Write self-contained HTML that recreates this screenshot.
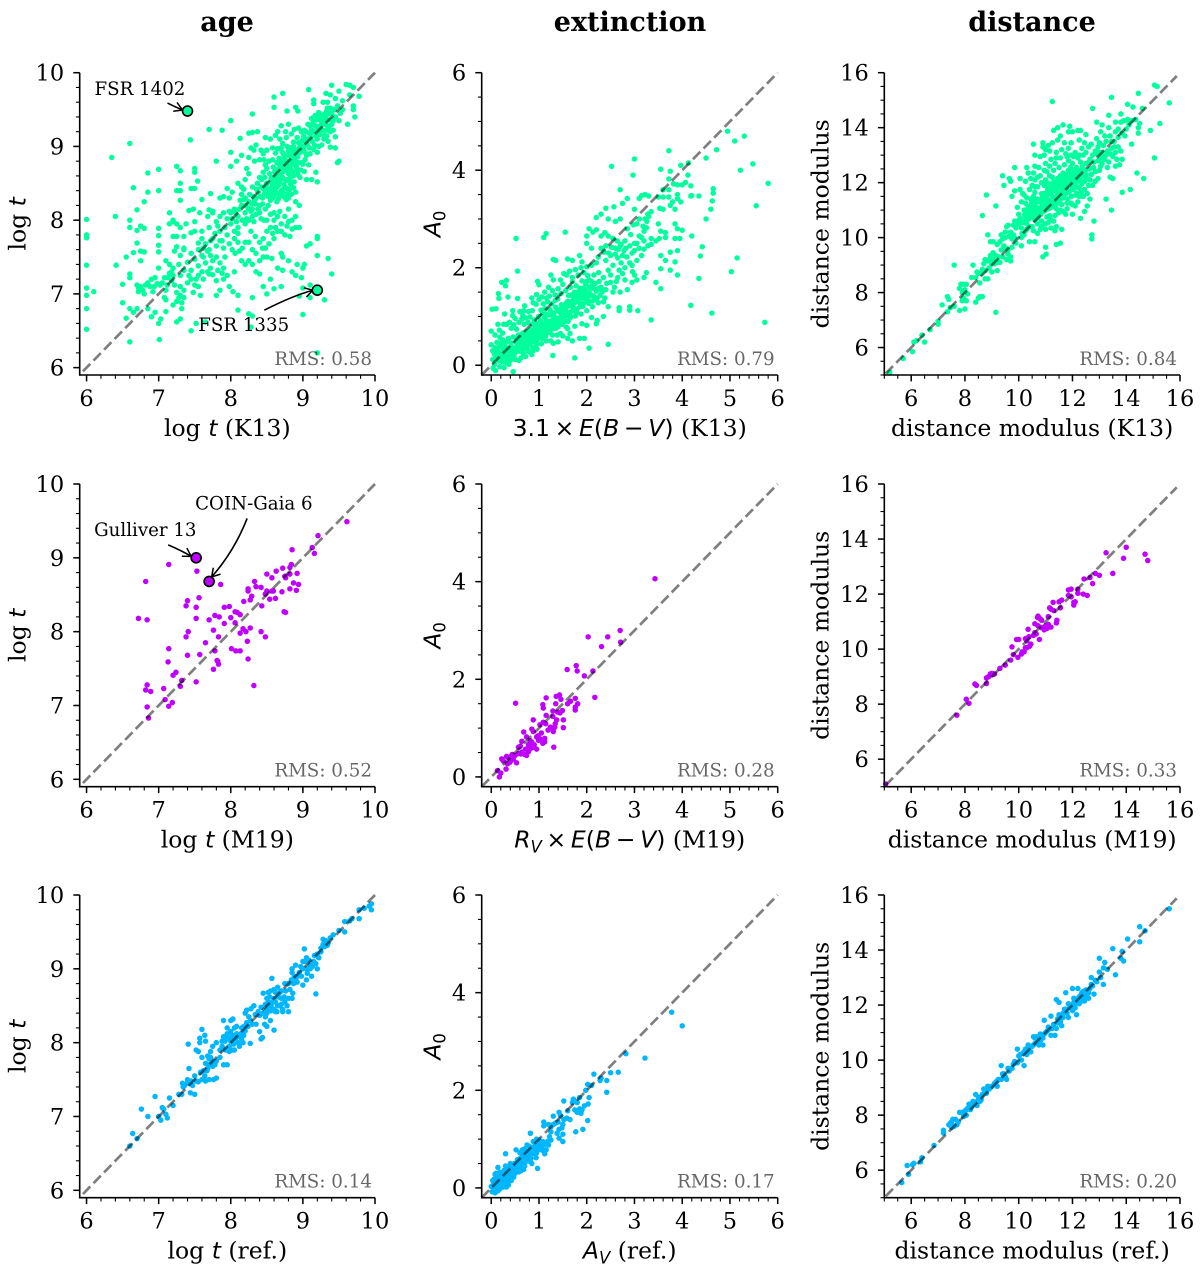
<!DOCTYPE html>
<html lang="en">
<head>
<meta charset="utf-8">
<title>Cluster parameter comparison</title>
<style>
html,body{margin:0;padding:0;background:#fff;}
svg{display:block;}
text{fill:#000;font-family:"DejaVu Serif","Liberation Serif",serif;}
.mi{font-family:"DejaVu Sans","Liberation Sans",sans-serif;font-style:italic;}
.mr{font-family:"DejaVu Sans","Liberation Sans",sans-serif;}
</style>
</head>
<body>
<svg id="figure" xmlns="http://www.w3.org/2000/svg" width="1200" height="1272" viewBox="0 0 1200 1272">
<defs>
<marker id="arrowhead" markerUnits="userSpaceOnUse" markerWidth="14" markerHeight="14" refX="11" refY="7" orient="auto">
<path d="M3,2.2 L11,7 L3,11.8" fill="none" stroke="#000" stroke-width="1.5"/>
</marker>
</defs>
<text x="227" y="31" text-anchor="middle" font-size="27" font-weight="bold">age</text>
<text x="630" y="31" text-anchor="middle" font-size="27" font-weight="bold">extinction</text>
<text x="1032" y="31" text-anchor="middle" font-size="27" font-weight="bold">distance</text>
</svg>
<script>
const ageTicks=[6,7,8,9,10];
const extTicks=[0,1,2,3,4,5,6];
const extYTicks=[0,2,4,6];
const distTicks=[6,8,10,12,14,16];
const rmsK13=["0.58","0.79","0.84"];
const rmsM19=["0.52","0.28","0.33"];
const rmsRef=["0.14","0.17","0.20"];
const ageK13Highlights=[[7.4,9.48],[9.2,7.05]];
const ageM19Highlights=[[7.52,9.0],[7.7,8.68]];
const ageK13Names=["FSR 1402","FSR 1335"];
const ageM19Names=["Gulliver 13","COIN-Gaia 6"];

const ageK13=[[6,8.01],[6,7.8],[6,7.76],[6,7.39],[6,7.08],[6,6.98],[6.1,7.03],[6,6.8],[6,6.52],[6.35,8.85],[6.6,9.04],[6.4,8.05],[6.41,7.39],[6.65,8.44],[6.85,8.64],[6.85,8.38],[6.8,8.25],[6.7,8.14],[6.6,8],[6.6,7.9],[6.7,7.86],[6.75,7.92],[6.8,7.89],[7,8.69],[7,8.4],[7,7.89],[7,7.79],[7,7.66],[7,7.57],[6.7,7.69],[6.65,7.56],[6.75,7.58],[6.8,7.57],[6.55,7.5],[6.75,7.45],[6.6,7.27],[6.6,7.22],[6.5,7.13],[6.5,6.88],[6.6,6.8],[6.65,6.75],[6.7,6.8],[6.55,6.67],[6.6,6.35],[6.85,6.8],[6.9,6.69],[6.95,6.75],[7,6.6],[7.03,6.66],[7.1,6.76],[7.01,6.38],[7.25,6.62],[7.3,6.66],[7.45,6.5],[7.52,6.6],[7.65,6.62],[8.25,6.73],[8.3,6.7],[8.28,6.55],[9,6.72],[9.2,6.2],
[6.7,7.12],[6.72,7.08],[6.75,7.1],[6.78,7.05],[6.72,7.03],[6.8,7],[6.82,7.12],[6.85,7.15],[6.9,7.2],[6.95,7.22],[6.88,7.1],[6.92,7.03],[6.98,7.14],[7.02,7.12],[7.05,7.15],[7.1,7.05],[7.13,7.22],[7.15,7.28],[7.2,7.25],[7.22,7.12],[7.08,6.95],[7.1,6.92],[7.25,7.02],[7.28,6.95],[7.25,6.9],[7.3,6.98],[7.32,6.88],[7.35,6.95],[7.35,7.05],[7.4,7.15],[7.45,7.2],[7.5,7.12],[7.52,7.2],[7.55,7.1],[7.48,7.02],[7.58,6.98],[7.3,7.1],[7.3,7.25],[7.35,7.32],[7.2,6.85],[7.32,6.8],[7,7.35],[7.1,7.45],[7.2,7.35],[7.28,7.4],[7.3,7.52],[7.22,7.58],[7.25,7.64],[7.35,7.62],[7.4,7.43],[7.45,7.32],[7.55,7.38],[7.5,7.47],[7.6,7.3],[7.7,7.27],[7.65,7.42],[7.72,7.52],[7.8,7.5],[7.85,7.42],[7.9,7.35],[7.95,7.25],[7.8,7.18],[7.85,7.05],[7.8,6.98],[7.98,7.1],[8.03,7.03],[8.05,7.3],[8.1,6.78],[8.1,6.98],[8.3,6.95],[7.75,7.26],[7.6,7.52],[7.7,7.6],[7.75,7.45],[7.8,7.65],[7.85,7.72],[7.75,7.75],[7.65,7.68],[7.55,7.69],[7.45,7.83],[7.5,7.85],[7.6,7.85],[7.2,7.78],[7.25,7.78],[7.35,7.78],[7.15,7.95],[7.2,8],[7.2,7.98],[7.25,7.95],[7.3,7.9],[7.38,7.95],[7.15,8.1],[7.42,8.13],[7.48,8.15],[7.5,7.98],[7.57,8.1],[7.25,8.4],[7.3,8.4],[7.3,8.27],[7.3,8.5],[7.25,8.73],[7.3,8.67],[7.5,8.7],[7.5,8.65],[7.54,8.53],[7.5,8.43],[7.45,8.43],[7.6,8.28],[7.7,8.14],[7.75,8.1],[7.72,8.36],[7.8,8.8],[8,8.92],[8,8.73],[8.15,8.88],[8.08,8.8],[8.25,8.63],[8.22,8.7],[7.85,8.3],[7.9,8.32],[7.98,8.3],[8.02,8.38],[7.95,8.43],[8.1,8.5],[8.15,8.45],[8.2,8.3],
[8,8.1],[8.05,8.15],[8.1,8.05],[8.15,8.2],[8.2,8.1],[8.25,8.25],[8.3,8.15],[8.35,8.3],[8.4,8.2],[8.4,8.1],[8.3,8.05],[8.25,8],[8.2,7.95],[8.1,7.9],[8,7.95],[7.95,8.02],[7.9,8.1],[7.85,8.05],[7.8,7.98],[7.75,8.12],[7.68,8.05],[7.7,7.9],[7.85,7.85],[7.95,7.8],[8.05,7.75],[8.1,7.7],[8.2,7.7],[8.3,7.6],[8.35,7.55],[8.25,7.45],[8.2,7.4],[8.15,7.45],[8.3,7.4],[8.4,7.45],[8.45,7.5],[8.5,7.5],[8.4,7.7],[8.45,7.75],[8.5,7.85],[8.55,7.9],[8.6,7.75],[8.65,7.85],[8.7,7.95],[8.75,7.8],[8.6,8],[8.65,8.05],[8.75,8.05],[8.8,7.98],[8.85,7.88],[8.9,7.9],[8.95,7.9],[8.9,8.05],[8.8,8.15],[8.7,7.55],[8.72,7.5],[8.8,7.45],[8.65,7.35],[8.55,7.2],[8.45,7.1],[8.5,7],[8.6,7.07],[8.7,7.1],[8.72,7.32],[8.85,7.3],[8.9,7.25],[8.92,7.4],[9,7.35],[9.02,7.4],[8.98,7.22],[9.1,7.12],[9.2,7.52],[9.05,7.65],[9.1,7.68],[9.2,7.78],[9.2,7.75],[9.35,7.48],[9.4,7.27],[9.3,6.92],[9.1,6.95],[8.95,6.97],[9,7.08],[8.4,7.27],[8.35,7.3],[8.5,8],
[9.6,9.84],[9.65,9.83],[9.7,9.8],[9.4,9.83],[9.65,9.7],[9.78,9.68],[9.5,9.75],[9.55,9.62],[9.7,9.55],[9.7,9.5],[9.72,9.4],[9.62,9.3],[9.5,9.35],[9.45,9.4],[9.4,9.45],[9.55,9.5],[9.45,9.65],[9.38,9.7],[9.32,9.72],[9.08,9.77],[9.15,9.63],[9.15,9.58],[8.72,9.72],[8.6,9.67],[8.6,9.53],[8.78,9.48],[8.9,9.53],[8.93,9.48],[8.3,9.44],[8,9.35],[7.88,9.22],[7.7,9.23],[7.44,9.09],[8.3,9.19],[8.37,9.2],[8.25,9.18],[8.13,9.11],[8.48,9.12],[8.62,9.15],[8.65,9.2],[8.7,9.28],[8.8,9.3],[8.88,9.23],[9.45,9.13],[9.45,8.98],[9.38,8.99],[9.5,8.8],[9.48,8.78],[8.32,8.95],[8.35,9.02],[8.28,8.98],[8.25,8.85],[8.33,8.8],[8.45,8.9],[8.55,9.1],[8.95,8.2],[8.9,8.25],[8.3,8.45],[8.2,8.55],[8.15,8.35],[7.6,7.75],[7.55,7.6],[7.62,7.5],[7.35,7.6],[7.45,7.55],[7.15,7.4],[7.18,7.3]];
const ageK13Core=[[8.52,8.42],[8.57,8.51],[8.62,8.38],[8.66,8.47],[8.71,8.33],[8.74,8.44],[8.79,8.36],[8.83,8.49],[8.54,8.63],[8.59,8.72],[8.63,8.6],[8.68,8.74],[8.72,8.58],[8.77,8.69],[8.81,8.53],[8.86,8.66],[8.91,8.72],[8.96,8.58],[8.58,8.82],[8.62,8.91],[8.67,8.84],[8.71,8.93],[8.76,8.79],[8.8,8.88],[8.84,8.82],[8.88,8.96],[8.93,8.86],[8.98,8.97],[9.03,8.82],[8.72,9.04],[8.77,9.12],[8.82,8.98],[8.87,9.06],[8.92,9.12],[8.96,9.03],[9.01,9.14],[9.06,9.03],[9.11,9.12],[9.16,9.02],[9.2,9.1],[9.02,9.22],[9.07,9.3],[9.12,9.22],[9.17,9.28],[9.22,9.22],[9.27,9.3],[9.32,9.22],[9.37,9.28],[9.12,9.38],[9.17,9.42],[9.22,9.46],[9.27,9.42],[9.32,9.38],[9.36,9.44],[9.28,9.6],[9.34,9.6],[9.42,9.35],[9.3,9.15],[9.35,9.07],[9.26,9.02],[9.2,8.92],[9.1,8.9],[9.08,8.75],[9.02,8.66],[8.98,8.78],[8.93,8.62],[8.88,8.52],[8.82,8.42],[8.77,8.28],[8.7,8.4],[8.64,8.25],[8.58,8.3],[8.52,8.32],[8.46,8.42],[8.41,8.32],[8.36,8.42],[8.47,8.58],[8.43,8.55],[8.5,8.7],[8.53,8.8],[8.6,8.58],[8.64,8.78],[8.7,8.7],[8.74,8.85],[8.68,8.52],[8.78,8.55],[8.84,8.68],[8.74,8.48],[8.67,8.36],[8.61,8.52],[8.56,8.44],[8.49,8.48],[8.26,8.35],[8.31,8.32],[8.18,8.42],[8.21,8.2],[8.12,8.15],[8.28,8.12],[8.34,8.22],[8.38,8.15],[8.44,8.22],[8.48,8.15],[8.52,8.2],[8.35,8.08],[8.42,8.02],[8.46,8],[8.32,7.98],[8.22,8.02],[8.16,8],[8.08,7.98],[8.02,8.02],[7.98,8.12],[8.1,7.82],[8.05,7.85],[7.92,7.9],[7.82,7.92],[7.78,7.82],[7.72,7.72],[7.68,7.58],[7.62,7.62],[8.6,8.1],[8.68,8.12],[8.62,7.9],[8.7,7.85],[8.78,7.92],[8.85,8],[8.58,7.82],[8.82,7.78],[8.55,8.08],[9.12,8.55],[9.18,8.65],[9.2,8.52],[9.05,8.55],[9.22,9],[9.3,9.35],[9.33,9.48],[9.38,9.52],[9.48,9.55],[9.42,9.22],[9.52,9.45],[9.35,9.25],[9.24,9.28],[9.15,9.2],[9.09,9.18],[8.98,9.2],[8.94,9.25],[8.84,9.17],[8.76,9.2],[8.68,9.1],[8.58,8.98],[8.5,8.95],[8.4,8.82],[8.46,8.82],[8.42,8.95],[7.92,7.5],[8.02,7.6],[8.06,7.55],[7.98,7.68],[8.16,7.62],[8.12,7.58],[7.9,7.62],[7.88,7.72],[8.25,7.7],[8.34,7.78],[8.28,7.85],[8.48,7.62],[8.53,7.68],[8.44,7.62],[8.57,7.48],[7.62,7.2],[7.68,7.3],[7.72,7.35],[7.82,7.32],[7.9,7.2],[7.88,7.28],[7.55,7.25],[7.42,7.25],[7.18,7.18],[7.08,7.22],[6.94,7.1],[7.12,7.12]];
const ageK13Ridge=[[8.55,8.27],[8.6,8.33],[8.63,8.44],[8.66,8.29],[8.69,8.55],[8.72,8.38],[8.75,8.31],[8.78,8.43],[8.8,8.3],[8.84,8.35],[8.87,8.44],[8.9,8.38],[8.56,8.57],[8.58,8.47],[8.61,8.66],[8.64,8.54],[8.66,8.69],[8.69,8.62],[8.71,8.78],[8.73,8.66],[8.76,8.54],[8.78,8.74],[8.8,8.63],[8.83,8.58],[8.85,8.76],[8.87,8.6],[8.89,8.82],[8.92,8.67],[8.94,8.78],[8.97,8.68],[9,8.76],[9.03,8.92],[8.65,8.97],[8.68,8.8],[8.7,8.98],[8.73,8.9],[8.75,8.76],[8.78,9],[8.8,8.94],[8.82,8.72],[8.85,8.9],[8.87,9],[8.89,8.75],[8.91,8.94],[8.94,9.05],[8.96,8.92],[8.99,9.08],[9.01,8.98],[9.03,9.07],[9.05,8.88],[9.07,9.1],[9.09,8.98],[9.11,9.18],[9.13,9.07],[9.15,8.96],[9.18,9.14],[9.2,9.26],[9.23,9.16],[9.25,9.35],[9.27,9.22],[9.29,9.1],[9.31,9.3],[9.33,9.14],[9.35,9.36],[9.38,9.2],[9.4,9.36],[8.44,8.3],[8.47,8.36],[8.5,8.5],[8.53,8.37],[8.42,8.45],[8.38,8.38],[8.33,8.27],[8.29,8.22],[8.24,8.16],[8.18,8.28],[8.13,8.27],[8.07,8.1],[8.37,8.5],[8.4,8.58],[8.45,8.65],[8.48,8.75],[8.56,8.35],[8.59,8.4],[8.62,8.48],[8.67,8.6],[8.74,8.72],[8.79,8.8],[8.83,8.92],[8.86,8.85],[8.9,8.9],[8.95,8.98],[9,9],[9.04,9.2],[9.1,9.28],[9.14,9.32],[9.19,9.36],[9.24,9.4],[9.3,9.44],[9.34,9.52],[9.4,9.3],[9.44,9.5]];

const extK13=[[0.52,2.6],[0.55,1.93],[1.1,2.62],[1.15,2.7],[1.55,2.73],[2.52,4.08],[3,4.23],[2.97,3.9],[3.72,4.4],[3.75,3.98],[3.55,4.02],[3.97,4.1],[4.13,4.15],[4.5,4.25],[4.72,4.42],[4.95,4.8],[5.1,4.6],[5.3,4.7],[5.48,4.13],[5.22,4],[5.8,3.73],[5.55,3.27],[4.65,3.62],[4.65,3.53],[4.63,3.37],[4.6,3.2],[4.5,3],[4.18,3.68],[4.18,3.47],[4.2,3.48],[4.35,3.47],[4.2,2.65],[4.42,2.43],[4.38,2.24],[5.15,2.2],[5.03,1.92],[4.35,1.78],[4.18,1.23],[4.62,1.07],[5.73,.88],[3.35,.93],[3.07,1.12],[2.9,1.13],[2.68,1.12],[2.68,1.18],[2.9,1.2],[2.45,.43],[2.05,.35],[1.75,.15],[1.29,.2],[.46,-.13],[3.82,3.72],[3.9,3.7],[4,3.7],[4.07,3.75],[4.12,3.9],[3.8,3.35],[3.9,3.42],[3.97,3.35],[3.85,3.2],[3.75,3.28],[3.72,3.82],[3.6,3.6],[3.72,3.6],[3.5,3.45],[3.6,3.45],[3.72,3.45],[3.9,3.5],[3.6,3.2],[3.53,3.22],[3.35,3.15],[3.3,3.05],[3.22,3],[3.25,2.82],[3.2,2.75],[3.1,2.65],[3,2.5],[2.92,2.68],[3.15,3.48],[3.22,3.5],[3.3,3.47],[3.1,3.42],[2.7,3.6],[2.57,3.25],[2.4,3.22],[2.75,3.32],[2.85,3.42],[3,3.2],[3.28,3.1],[2.98,2.88],[3.1,3],[2.85,2.8],[2.7,3],[2.6,2.95],[2.45,3],[2.3,3.1],[2.2,3.03],[2.05,2.8],[2.2,2.78],[2.3,2.65],[2.38,2.72],[2.45,2.65],[2.13,2.73],[3.55,2.75],[3.52,2.6],[3.65,2.62],[3.65,2.72],[3.85,2.9],[3.9,2.8],[3.85,2.6],[3.95,2.6],[4,2.77],[3.5,2.9],[3.45,2.55],[3.35,2.6],[3.35,2.48],[3.2,2.55],[3.2,2.38],[3.1,2.4],[3.05,2.5],[2.95,2.3],[2.82,2.4],[2.7,2.45],[2.6,2.4],[2.75,2.25],[2.65,2.2],[2.5,2.25],[2.55,2.6],[2.8,2.55],[2.4,2.45],[2.1,2.4],[2,2.5],[2,2.65],[1.85,2.25],[1.9,2.12],[1.7,2.15],[1.6,2.18],[1.3,2.17],[1.35,2.15],[3.55,2.25],[3.65,2.15],[3.75,2.32],[3.9,2.35],[3.85,2.12],[3.55,1.98],[3.75,1.95],[3.9,1.85],[3.45,1.7],[3.55,1.57],[3.25,1.9],[3.2,1.8],[3.05,1.75],[3,1.85],[2.95,1.7],[2.75,1.88],[2.8,1.75],[2.65,1.8],[2.8,2],[2.95,2.05],[3.05,2.15],[2.5,1.7],[2.55,1.5],[2.7,1.5],[2.85,1.55],[2.4,1.55],[2.3,1.6],[2.35,1.8],[2.25,1.9],[2.45,1.95],[2.55,2.05],[2.4,2.15],[2.2,2.1],[2.1,2.05],[2.15,1.85],[2.05,1.75],
[.97,1.72],[1,1.65],[1.2,1.6],[1.25,1.85],[1.3,1.75],[.7,1.22],[.55,1.37],[.35,1.4],[.3,1.63],[.22,1.7],[.32,1.74],[.16,1.37],[.15,1.47],[.02,1.15],[.1,1.16],[.28,1.05],[.45,1.12],[.45,1.02],[.85,1.38],[.95,1.45],[2.35,1.3],[2.45,1.2],[2.35,1],[2.22,.92],[2.2,.85],[2.1,.98],[2,.82],[1.95,.55],[1.85,.55],[1.9,.85],[1.75,.8],[1.6,.75],[1.65,.65],[1.6,.55],[1.7,.5],[1.5,.6],[1.45,.65],[1.25,.5],[1.3,.45],[.85,.22],[.62,.15],[0,.42],[0,.7]];
const extK13Core=[[.03,.12],[.07,.02],[.11,.17],[.04,-.06],[.14,.27],[.09,-.11],[.18,-.03],[.21,.19],[.16,.09],[.24,.07],[.27,-.05],[.29,.22],[.34,.13],[.37,.02],[.39,.28],[.43,.21],[.31,.36],[.26,.31],[.19,.38],[.12,.33],[.06,.24],[.47,.33],[.51,.27],[.55,.38],[.59,.29],[.63,.41],[.67,.33],[.71,.47],[.75,.38],[.79,.52],[.83,.43],[.87,.36],[.91,.5],[.95,.42],[.99,.56],[.41,.46],[.36,.55],[.3,.47],[.24,.52],[.18,.57],[.46,.58],[.52,.49],[.57,.62],[.61,.53],[.66,.66],[.7,.58],[.74,.69],[.78,.6],[.82,.73],[.86,.65],[.9,.58],[.94,.71],[.98,.63],[1.02,.74],[1.06,.55],[1.1,.68],[1.14,.6],[1.18,.77],[.42,.76],[.47,.83],[.53,.74],[.58,.88],[.64,.95],[.69,.84],[.73,.97],[.77,.88],[.81,.99],[.86,.84],[.9,.93],[.94,.86],[.99,1],[1.03,.91],[1.07,.84],[1.11,.99],[1.16,.89],[1.2,1.03],[1.24,.82],[1.28,.93],[1.32,.76],[1.36,.88],[1.4,.79],[1.44,.93],[1.49,.84],[1.53,.97],[1.57,.78],[1.61,.9],[1.66,.98],[1.04,1.13],[1.09,1.26],[1.13,1.16],[1.18,1.3],[1.23,1.14],[1.27,1.26],[1.31,1.07],[1.35,1.19],[1.39,1.36],[1.43,1.1],[1.47,1.24],[1.52,1.03],[1.56,1.16],[1.6,1.31],[1.64,1.08],[1.68,1.22],[1.72,1.35],[1.76,1.01],[1.8,1.15],[1.84,1.29],[1.88,1.05],[1.92,1.21],[1.96,1.38],[2,1.12],[2.04,1.27],[2.08,1.44],[2.12,1.2],[2.16,1.35],[2.2,1.52],[2.24,1.28],[2.28,1.43],[1.22,1.42],[1.28,1.53],[1.34,1.44],[1.4,1.57],[1.46,1.47],[1.5,1.66],[1.56,1.53],[1.62,1.43],[1.66,1.6],[1.7,1.72],[1.74,1.5],[1.78,1.63],[1.82,1.44],[1.86,1.58],[1.9,1.73],[1.94,1.52],[1.98,1.66],[2.02,1.84],[2.06,1.6],[2.1,1.72],[2.14,1.58],[1.58,1.85],[1.64,1.93],[1.7,1.8],[1.76,1.96],[1.82,1.85],[1.88,2],[1.94,1.9],[2,2.02],[1.45,1.75],[1.52,1.88],[2.18,1.68],[2.26,1.72],[2.32,1.5],[2.38,1.38],[2.42,1.68],[2.5,1.85],[2.58,1.6],[2.62,1.72],[2.68,1.95],[2.72,2.1],[2.6,2.28],[2.66,2.38],[2.72,2.48],[2.78,2.35],[2.84,2.22],[2.9,2.45],[2.64,2.55],[2.52,2.42],[2.46,2.3],[2.36,2.32],[2.3,2.4],[2.24,2.22],[3,2.35],[3.15,2.25],[3.05,2.9],[3.18,2.85],[3.26,2.95],[3.15,2.62],[3.28,2.45],[2.9,2.1],[2.96,1.92],[1.15,.5],[1.05,.44],[.96,.33],[.88,.3],[.78,.28],[.68,.22],[.58,.1],[.72,.18],[.5,.12],[1.22,.68],[1.38,.62],[1.28,.62],[1.4,.48],[.12,.47],[.08,.36],[.03,.3],[.17,.72],[.24,.66],[.08,.62],[.32,.84],[.38,.88],[.5,.96],[.26,.84],[.14,.84],[.6,1.1],[.66,1.02],[.78,1.1],[.68,1.12],[.86,1.12],[.94,1.25],[1,1.35],[1.06,1.4],[1.12,1.5],[.88,1.28],[1.14,1.05],[1.08,1.05],[1.34,1.33],[1.16,1.38]];
const extK13Ridge=[[.15,.13],[.22,.26],[.28,.12],[.33,.29],[.38,.18],[.44,.37],[.49,.24],[.54,.45],[.58,.35],[.62,.48],[.65,.27],[.69,.4],[.72,.53],[.76,.31],[.8,.46],[.84,.58],[.88,.49],[.92,.69],[.96,.52],[1,.66],[1.04,.81],[1.08,.6],[1.12,.76],[1.15,.92],[1.19,.68],[1.22,.9],[1.26,1.04],[1.3,.82],[1.34,.98],[1.38,1.12],[1.42,.87],[1.46,1.02],[1.5,1.18],[1.54,.9],[1.58,1.08],[1.62,1.22],[1.65,1.02],[1.7,1.12],[1.74,1.28],[1.78,1.08],[1.82,1.38],[1.86,1.2],[1.9,1.44],[1.94,1.28],[1.98,1.55],[2.02,1.35],[2.06,1.48],[2.1,1.62],[2.14,1.42],[2.18,1.56],[2.22,1.38],[2.26,1.58],[.56,.55],[.6,.43],[.64,.58],[.68,.48],[.72,.62],[.76,.48],[.8,.62],[.84,.52],[.88,.62],[.92,.76],[.96,.6],[1,.78],[1.04,.62],[1.08,.74],[1.12,.85],[1.16,.72],[1.2,.85],[1.24,.72],[1.28,.84],[1.32,.92],[1.36,.76],[1.4,.95],[1.44,1.14],[1.48,.92],[1.52,1.12],[1.56,1.26],[1.6,1.02],[1.64,1.3],[1.68,1.44],[1.72,1.18],[1.76,1.42],[1.8,1.3],[1.84,1.52],[1.88,1.38],[1.92,1.58],[1.96,1.46],[2,1.72],[2.04,1.42],[2.08,1.58],[2.12,1.32],[.2,.09],[.26,.16],[.32,.05],[.4,.1],[.48,.16],[.35,.35],[.27,.42],[.2,.45],[.15,.36],[.09,.14]];

const distK13=[[5.2,5.1],[5.7,5.6],[6.05,5.85],[6.1,6.2],[6.2,6.25],[6.4,6.45],[6.5,6.2],[6.7,6.65],[7,6.85],[7,6.95],[7.15,7.55],[7.35,7.85],[7.4,7.75],[7.35,7.3],[7.45,7.45],[7.6,7.5],[7.8,7.35],[8,7.4],[7.6,9],[7.8,8.15],[7.85,8.3],[7.95,8.3],[8.05,8.3],[7.9,8],[8,8.1],[8.1,7.95],[7.95,7.8],[8.05,7.7],[7.9,7.7],[8.4,7.65],[8.5,7.8],[8.55,7.85],[8.65,7.85],[9.15,7.28],[8.25,8.55],[8.4,8.55],[8.45,8.75],[8.6,8.7],[8.55,8.35],[8.75,8.5],[8.85,8.5],[8.3,9],[8.7,9.05],[8.75,9.2],[8.9,9.2],[9,9.05],[9.05,9.2],[9.1,9.05],[9.2,9.1],[9.3,9.1],[9.4,9.3],[8.75,8.8],[8.9,8.9],[9,8.75],[9.2,8.8],[9.55,9.2],[9.6,9.4],[9.7,9.15],[9.7,9.3],[9.6,9.55],[8.65,10.8],[8.8,11.55],[9.15,11.15],[8.95,9.85],[8.85,10.1],[9.05,9.85],[9.2,9.75],[9.3,9.85],[9.35,10.1],[9.5,10.2],[9.55,10.4],[9.6,10.45],[9.7,10.2],[9.8,10.1],[9.85,10],[9.9,9.8],[10.1,9.7],[9.85,10.6],[9.95,10.6],[10,10.5],[10.1,10.35],[9.45,9.7],[9.75,9.65],[10.4,9.85],[10.6,9.85],[10.9,9.3],[11.02,9.4],[11,9.65],[11.4,9.75],[11.55,9.8],[11.6,10.3],[11.35,10.25],[11.2,10.35],[11,10.3],[10.8,10.3],[10.7,10.5],[10.5,10.4],[10.3,10.3],[10.2,10.1],[10.1,10],[10.3,10.5],[10.25,10.7],[10.4,10.8],[10.6,10.65],[10.85,10.6],[11,10.5],[11.1,10.55],[11.3,10.6],[11.4,10.4],[10.2,11],[10.3,10.95],[10.4,11],[10.5,11.1],[10.6,11.2],[10.65,10.95],[10.8,11],[11,11],[11.15,10.8],[11.2,11.1],[11.4,11.05],[11.5,11.3],[11.3,11.3],[11.1,11.25],[10.9,11.2],[10.7,11.4],[10.45,11.4],[10.25,11.25],[10.1,11.3],[9.75,11.5],[9.85,11.7],[9.95,11.1],[10.05,11.75],[10.05,12.15],[9.85,12.55],[9.7,12.05],[9.4,12.25],[9.45,11.9],[9.65,12.15],[10.3,12.55],[10.35,12.35],[10.25,12.05],[10.45,12.15],[10.5,11.9],[10.6,12.1],[10.7,11.85],[10.85,12],[10.95,11.9],[11,12.1],[11.1,11.8],[11.2,11.6],[11.3,11.9],[11.35,11.7],[11.4,12.05],[11.5,11.85],[11.6,12],[11.65,11.6],[11.7,11.8],[11.8,11.95],[11.9,11.7],[11.95,12.15],[12,11.85],[12.1,11.95],[12.15,11.6],[12.25,11.8],[12.35,11.95],[12.45,12.05],[12.2,11.3],[12,11.2],[11.8,11.25],[11.6,11.2],[11.45,11.55],[11.55,12.25],[11.65,12.15],[11.75,12.3],[11.85,12.45],[11.95,12.35],[12.1,12.3],[12.2,12.25],[12.3,12.45],[12.5,12.3],[12.65,12.5],[12.5,12.7],[12.3,12.75],[12.15,12.55],[12,12.7],[11.85,12.8],[11.7,12.65],[11.5,12.55],[11.3,12.45],[11.15,12.25],[11.05,12.4],[11,12.7],[11.2,12.85],[11.4,12.9],[11,13.2],[10.9,13.3],[10.8,12.95],[10.6,13],[10.55,13.4],[10.6,12.6],[10.9,13.45],[11.25,13.45],[11.4,13.1],[11.6,13.2],[11.75,13.05],[11.85,13.25],[11.95,13],[12.1,13.1],[12.25,13],[12.35,13.25],[12.5,13.1],[12.65,12.85],[12.75,13],[12.85,13.15],[12.95,12.8],[13.05,12.6],[13.2,12.85],[13.35,12.75],[13.5,12.95],[13.6,12.6],[13.75,12.65],[13.85,12.85],[13.3,13.15],[13.15,13.35],[13,13.45],[13.25,13.5],[13.4,13.7],[13.55,13.5],[13.7,13.65],[13.85,13.8],[14,13.95],[14.1,14.2],[13.8,14.2],[13.6,14.2],[13.35,14],[13.05,13.85],[13.1,14.1],[13.35,14.45],[12.9,14.2],[12.75,14.7],[12.5,13.75],[12.3,13.9],[12.2,13.9],[12,13.85],[11.9,14.05],[11.65,14.1],[11.85,13.85],[11.45,14],[11.55,13.7],[11.3,13.9],[11.25,14.95],[13.45,15.1],[14.05,14.85],[14.25,14.75],[14.45,15.25],[14.6,14.7],[15.05,15.55],[15.15,15.5],[15.6,14.9],[15.25,14.15],[14.9,13.9],[14.45,14],[14.45,13.8],[13.8,14.5],[14.1,14.1],[14.35,14.3],[14.5,14.15],[14.2,13.4],[13.45,13.25],[13.05,12.9],[13.4,12.2],[13.5,12.15],[14.4,12.35],[14.65,12.15],[13.85,11.65],[14.15,11.75],[13.25,11.4],[13.45,11],[15.05,12.9],[12.95,12.15],[12.65,12.1],[12.65,11.4],[12.45,10.95],[12.3,10.7],[12,10.85],[12.8,10.6],[12.72,10.1],[12.72,9.95],[11.55,11],[11.75,10.85],[11.05,11.55],[10.85,11.6],[10.6,11.65],[12.9,13.6],[13.1,13.1],[13.6,13.1],[12.7,13.4]];
const distK13Core=[[10.15,10.55],[10.22,10.82],[10.28,10.62],[10.35,11.12],[10.38,10.68],[10.43,10.9],[10.48,11.25],[10.52,10.75],[10.55,10.98],[10.58,11.32],[10.63,10.85],[10.67,11.1],[10.72,10.72],[10.74,11.02],[10.77,11.3],[10.82,10.85],[10.85,11.12],[10.88,11.45],[10.92,10.95],[10.95,11.3],[10.98,11.62],[11.02,11.15],[11.05,11.4],[11.08,11.75],[11.12,11.05],[11.14,11.35],[11.17,11.68],[11.2,11.95],[11.23,11.22],[11.26,11.5],[11.28,11.78],[11.31,12.05],[11.34,11.15],[11.37,11.45],[11.4,11.75],[11.42,11.95],[11.45,12.15],[11.47,11.25],[11.5,11.6],[11.52,11.95],[11.55,12.1],[11.57,11.4],[11.6,11.75],[11.62,11.9],[11.65,12.35],[11.68,11.45],[11.7,12],[11.72,12.18],[11.75,11.6],[11.78,11.85],[11.8,12.1],[11.82,11.4],[11.85,11.65],[11.88,12.2],[11.9,12],[11.93,12.55],[11.96,11.5],[11.98,12.05],[12.02,12.2],[12.05,11.75],[12.08,12.45],[12.12,11.55],[12.15,12.1],[12.18,11.85],[12.22,12.4],[12.26,12.05],[12.3,12.2],[12.33,11.65],[12.37,12.6],[12.4,12.25],[12.45,11.75],[12.48,12.45],[12.55,12.15],[12.6,11.9],[12.62,12.75],[12.7,12.3],[12.78,12.55],[12.85,12.4],[12.4,13],[12.6,13.3],[12.2,12.9],[12.05,12.95],[11.8,12.95],[11.55,12.9],[11.35,12.7],[11.15,12.6],[10.95,12.45],[11.25,12.2],[11.05,12],[10.8,12.25],[10.7,12.2],[10.6,11.85],[10.55,11.5],[10.3,11.45],[10.15,11.6],[10.4,11.75],[10.2,11.55],[10,10.85],[10.05,10.7],[9.9,10.35],[9.8,10.45],[9.65,10.05],[9.75,9.95],[9.5,10],[9.45,9.65],[9.55,9.6],[9.4,9.95],[9.35,9.55],[9.25,9.3],[9.15,9.35],[9.05,9.45],[8.95,9.35],[8.85,9.15],[8.65,8.85],[8.5,8.7],[10.12,10.15],[10.25,10.25],[10.4,10.4],[10.55,10.25],[10.7,10.15],[10.85,10.4],[11.05,10.75],[11.2,10.65],[11.35,10.8],[11.48,10.9],[11.65,10.95],[11.8,11.05],[11.95,11.25],[12.1,11.15],[12.25,11.5],[12.4,11.5],[12.55,11.6],[12.55,11.15],[12.75,11.9],[12.85,12.05],[13,12.45],[13.1,12.7],[13.25,13],[13.4,13.05],[13.55,13.3],[13.7,13.3],[13.8,13.15],[13.95,13.7],[13.65,12.85],[13.3,12.55],[13.15,13],[13,13.1],[12.9,13.05],[12.8,12.75],[13.45,13.5],[13.6,13.85],[13.9,14.25],[14.05,14.3],[14.2,14.25],[13.7,13.95],[13.2,13.7],[12.95,13.3],[12.45,13.45],[12.25,13.55],[11.95,13.45],[11.7,13.45],[11.45,13.55],[11.15,13.15],[10.95,13],[11.1,13.35],[10.75,12.55],[10.55,12.35]];

const ageM19=[[9.61,9.49],[9.21,9.3],[9.13,9.14],[9.16,9.06],[8.85,9.11],[7.14,8.91],[7.53,8.82],[6.82,8.68],[7.86,8.64],[6.72,8.18],[6.84,8.16],[7.56,8.46],[7.4,8.42],[7.38,8.35],[7.52,8.33],[7.52,8.18],[7.7,8.16],[7.78,8.22],[7.84,8.2],[7.91,8.33],[7.98,8.34],[8,8.19],[7.91,8.11],[7.76,8.02],[7.83,7.93],[7.65,7.85],[7.41,8],[7.38,7.93],[7.14,7.77],[7.4,7.68],[7.57,7.69],[7.78,7.74],[7.81,7.61],[7.83,7.56],[7.82,7.6],[7.76,7.49],[7.13,7.59],[7.24,7.45],[7.2,7.41],[7.32,7.34],[7.52,7.32],[7.3,7.26],[6.84,7.28],[6.82,7.21],[6.89,7.19],[7.07,7.23],[7.09,7.08],[7.19,7.04],[7.14,6.99],[6.84,6.98],[6.86,6.83],[8.32,7.27],[8.24,7.63],[8.01,7.77],[8.07,7.74],[8.13,7.74],[8.23,7.87],[8.48,7.93],[8.42,8],[8.06,8.12],[8.13,7.98],[8.17,8.04],[8.21,8],[8.27,8.05],[8.06,8.27],[8.09,8.26],[8.13,8.23],[8.18,8.41],[8.27,8.43],[8.29,8.48],[8.43,8.35],[8.24,8.58],[8.24,8.55],[8.33,8.68],[8.35,8.61],[8.42,8.6],[8.48,8.51],[8.5,8.55],[8.54,8.44],[8.57,8.55],[8.59,8.55],[8.62,8.45],[8.5,8.78],[8.57,8.73],[8.63,8.82],[8.72,8.86],[8.71,8.54],[8.74,8.27],[8.76,8.26],[8.75,8.75],[8.76,8.73],[8.82,8.78],[8.82,8.87],[8.84,8.91],[8.92,8.79],[8.87,8.66],[8.94,8.64],[8.82,8.58],[8.91,8.56]];

const extM19=[[3.43,4.06],[2.03,2.87],[2.44,2.87],[2.7,3],[2.71,2.76],[2.31,2.67],[1.59,2.2],[1.78,2.28],[1.8,2.17],[2.13,2.17],[1.95,2.07],[2.17,1.63],[.51,1.51],[1.15,1.62],[1.36,1.65],[1.43,1.68],[1.46,1.59],[1.76,1.61],[1.35,1.5],[1.08,1.48],[1.09,1.41],[1.6,1.5],[1.66,1.55],[1.81,1.5],[1.76,1.43],[1.76,1.37],[1.49,1.36],[1.44,1.31],[1.29,1.35],[1.15,1.26],[1.29,1.24],[1.39,1.33],[.88,1.17],[1.51,1.17],[1.37,1.17],[1.34,1.09],[1.51,1.01],[1.3,.93],[1.19,.96],[1.31,.61],[.68,.92],[.85,.98],[1.02,1.07],[1.14,1.09],[1.09,1.12],[1.12,.79],[1.08,.69],[1.02,.78],[.95,.82],[.99,.75],[.85,.71],[.78,.66],[.81,.58],[.95,.57],[.74,.44],[.64,.51],[.57,.61],[.64,.73],[.74,.82],[.5,.44],[.46,.37],[.53,.29],[.36,.4],[.25,.33],[.32,.42],[.22,.37],[.31,.16],[.13,.13],[.17,0],[.2,.08],[.39,.3],[.42,.34],[.62,.47],[.7,.46],[.78,.52],[.86,.6],[.9,.66],[.82,.74],[.88,.93],[.98,.84],[1.05,.9],[1.12,.72],[1.24,1.02],[1.33,1.02],[.72,.57],[.61,.63],[.44,.46],[.34,.27],[.4,.41],[.57,.48]];

const distM19=[[5.05,5.1],[7.7,7.6],[8.05,8.18],[8.15,8.03],[8.37,8.73],[8.43,8.68],[8.8,8.75],[8.8,8.95],[8.88,9],[8.95,9.1],[9,9.12],[9.1,9.1],[9.05,9.08],[9.3,9.3],[9.5,9.42],[9.7,9.6],[9.8,9.8],[9.75,10.08],[9.92,10.35],[10,10.35],[9.97,9.7],[10.1,9.82],[10.13,9.9],[10.2,9.9],[10.25,10.05],[10.3,10.05],[10.4,10.1],[10.45,10.18],[10.25,10.38],[10.3,10.3],[10.38,10.45],[10.35,10.72],[10.55,10.5],[10.6,10.6],[10.65,10.55],[10.6,10.92],[10.7,11.15],[10.72,11.2],[10.8,11.1],[10.85,11.05],[10.77,10.35],[10.72,10.85],[10.85,10.78],[10.95,10.7],[11.05,10.75],[11,10.85],[11.1,10.9],[11.2,10.8],[11.1,11.18],[11.15,11.5],[11.2,11.45],[11.28,11.7],[11.3,11.4],[11.4,10.95],[11.42,11.05],[11.5,11.72],[11.55,11.5],[11.6,11.78],[11.85,11.95],[11.85,12.15],[11.95,12.18],[11.95,11.9],[12.05,11.7],[12.05,11.6],[12.1,11.72],[12.2,12.18],[12.2,12.03],[12.4,12],[12.43,12.55],[12.55,11.95],[12.65,12.6],[12.75,12.38],[12.85,12.75],[13,12.68],[13.25,13.5],[13.5,12.75],[13.9,13.3],[14,13.7],[14.7,13.45],[14.8,13.22]];

const ageRef=[[6.6,6.6],[6.64,6.77],[6.7,6.7],[6.76,7.1],[6.85,7],[6.95,7.27],[7,7],[7.03,6.95],[7.05,7.12],[7.07,7.1],[7.1,7.03],[7.12,6.98],[7.15,7.25],[7.2,7.15],[7.28,7.3],[7.32,7.3],[7.33,7.45],[7.36,7.42],[7.4,7.5],[7.42,7.45],[7.44,7.32],[7.42,7.65],[7.41,7.98],[7.47,7.42],[7.5,7.3],[7.5,7.55],[7.55,7.47],[7.58,7.6],[7.6,7.5],[7.64,7.55],[7.65,7.48],[7.7,7.5],[7.67,7.62],[7.76,7.5],[7.8,7.52],[7.65,7.72],[7.7,7.7],[7.72,7.8],[7.75,7.68],[7.8,7.75],[7.85,7.8],[7.9,7.7],[7.95,7.7],[7.52,7.9],[7.55,7.88],[7.57,8],[7.57,8.06],[7.6,8.18],[7.64,8.1],[7.65,8.02],[7.6,7.8],[7.68,7.82],[7.75,7.95],[7.72,7.88],[7.8,8],[7.88,8.02],[7.9,8.08],[7.9,8.3],[7.95,8.2],[7.95,8.12],[7.98,8.05],[8,8.3],[8,8.15],[8.03,8.32],[8.05,8.2],[8.08,8.12],[8.1,8],[8.12,8.08],[8.15,8.05],[8.18,8.1],[8.15,8.2],[7.93,7.9],[7.98,7.88],[8.03,7.9],[8.05,7.9],[8.12,7.95],[8.27,7.99],[8.05,8.05],[7.98,7.95],[8.22,8.27],[8.25,8.35],[8.18,8.22],[8.2,8.4],[8.22,8.44],[8.28,8.46],[8.32,8.5],[8.3,8.25],[8.35,8.25],[8.4,8.37],[8.42,8.05],[8.44,8.07],[8.4,8.15],[8.47,8.25],[8.5,8.22],[8.55,8.3],[8.6,8.17],[8.45,8.4],[8.5,8.45],[8.52,8.5],[8.55,8.43],[8.6,8.45],[8.62,8.55],[8.45,8.67],[8.5,8.6],[8.55,8.7],[8.57,8.87],[8.6,8.72],[8.65,8.75],[8.7,8.7],[8.7,8.6],[8.68,8.5],[8.72,8.45],[8.72,8.42],[8.8,8.42],[8.75,8.55],[8.8,8.6],[8.85,8.6],[8.86,8.67],[8.75,8.8],[8.8,8.8],[8.88,8.9],[8.9,8.85],[8.85,8.95],[8.85,9],[8.9,9.05],[8.95,8.95],[8.92,8.82],[8.98,8.9],[9,8.78],[9,9.1],[9.05,9.15],[9.1,9.05],[9.1,9],[9.05,9],[9.02,9.27],[9.15,9.1],[9.12,8.9],[9.05,8.85],[9.18,9.07],[9.2,9],[9.18,8.66],[9.22,9.15],[9.25,9.23],[9.3,9.3],[9.28,9.4],[9.32,9.38],[9.35,9.35],[9.42,9.46],[9.5,9.52],[9.58,9.5],[9.58,9.64],[9.65,9.65],[9.68,9.68],[9.78,9.68],[9.78,9.8],[9.85,9.82],[9.92,9.85],[9.95,9.8],[9.95,9.88]];
const ageRefCore=[[7.92,8.02],[7.96,8.08],[8,8.02],[8.02,8.1],[8.04,7.98],[8.07,8.06],[8.14,8.12],[8.2,8.16],[8.17,8],[8.08,8.22],[7.88,7.95],[7.85,7.9],[8.24,8.22],[8.27,8.3],[8.34,8.38],[8.38,8.42],[8.42,8.48],[8.48,8.35],[8.5,8.4],[8.52,8.55],[8.54,8.62],[8.56,8.5],[8.58,8.55],[8.6,8.6],[8.62,8.42],[8.65,8.5],[8.66,8.62],[8.68,8.68],[8.7,8.52],[8.74,8.62],[8.76,8.7],[8.78,8.5],[8.62,8.68],[8.52,8.68],[8.48,8.52],[8.58,8.45],[8.64,8.42],[8.82,8.72],[8.84,8.85],[8.87,8.8],[8.93,8.9],[8.97,9.03],[9,9],[9.03,9.1],[9.06,8.94],[9.08,9.12],[9.13,9.03],[9.16,9.18],[9.2,9.2],[9.25,9.28],[9.28,9.33],[9.34,9.32],[9.38,9.42],[7.4,7.46],[7.34,7.4],[7.45,7.48],[7.52,7.48],[7.62,7.62],[7.68,7.65],[7.74,7.75],[7.78,7.7],[7.7,7.78]];

const extRef=[[3.78,3.6],[4,3.32],[3.22,2.66],[2.82,2.75],[2.66,2.37],[2.5,2.36],[2.42,2.2],[2.42,1.96],[2.15,2.33],[2.28,2.2],[2.3,2.25],[2.1,2.1],[2.02,2.12],[1.98,2],[2.05,1.85],[2.03,1.72],[1.95,1.68],[1.9,1.6],[1.85,1.62],[1.8,1.55],[1.88,1.53],[1.75,1.6],[1.7,1.75],[1.72,1.82],[1.8,1.75],[1.85,1.85],[1.52,1.78],[2.02,1.38],[1.92,1.2],[1.77,1.15],[1.65,1.4],[1.58,1.43],[1.52,1.4],[1.42,1.55],[1.3,1.47],[1.4,1.35],[1.5,1.3],[1.48,1.23],[1.42,1.2],[1.38,1.12],[1.5,1.1],[1.42,1.02],[1.5,.95],[1.25,1.25],[1.2,1.3],[1.1,1.35],[1.1,1.27],[1.25,.98],[1.18,.95],[1.1,.88],[.82,1.12],[1,.98],[.95,1],[.88,.95],[.8,.85],[.75,.88],[.7,.8],[.65,.78],[.52,.78],[.6,.72],[.3,.7],[.97,.4],[.85,.5],[.8,.55],[.7,.45],[.62,.35],[.5,.38],[.55,.48],[.45,.45],[.4,.5],[.35,.4],[.3,.45],[.25,.3],[.18,.32],[.14,.42],[.08,.28],[.03,.15],[.05,.08],[0,.03],[.02,-.08],[.08,-.1],[.12,-.03],[.15,.05],[.2,.15],[.25,.12],[.3,.08],[.33,.2],[.4,.22],[.45,.28],[.5,.3],[.58,.42],[.65,.55],[.72,.6],[.78,.65],[.85,.72],[.9,.8],[.95,.72],[1.05,.78],[1.1,.75],[1.15,.78],[.75,.62],[.65,.68],[.55,.58],[.45,.35],[.38,.3],[.28,.22],[.2,.22],[.15,.2],[.1,.12],[.1,.02],[.18,-.02],[.32,.02],[.22,.05],[.42,.15],[.35,.12],[.6,.5],[.68,.38],[.7,.7],[.82,.78],[1,.85],[1.3,1.3],[1.35,1.33],[1.45,1.48],[1.6,1.58],[1.25,1.15]];
const extRefCore=[[.06,.18],[.12,.1],[.16,.27],[.22,.18],[.27,.36],[.3,.2],[.33,.32],[.36,.27],[.39,.38],[.42,.3],[.44,.42],[.47,.22],[.5,.46],[.52,.34],[.55,.42],[.58,.33],[.6,.6],[.63,.47],[.66,.42],[.68,.62],[.7,.52],[.73,.7],[.76,.55],[.78,.75],[.8,.68],[.83,.6],[.86,.82],[.88,.7],[.92,.88],[.94,.62],[.98,.78],[1.02,.92],[1.06,.85],[1.08,.95],[1.14,.9],[1.2,.88],[1.22,1.05],[1.12,.7],[.48,.5],[.38,.44],[.28,.34],[.18,.16],[.1,.2],[.06,.06],[.04,.02],[.14,-.06],[.26,.02],[.36,.06],[.1,.3],[.62,.72],[.74,.74],[.58,.55],[.46,.4],[.34,.34],[.24,.24]];

const distRef=[[5.65,5.55],[5.85,6.17],[5.9,5.85],[6.05,6.2],[6.1,6.25],[6.35,6.3],[6.4,6.45],[6.85,6.9],[7.2,7.35],[7.2,7.45],[7.4,7.65],[7.45,7.7],[7.5,7.75],[7.55,7.85],[7.6,7.6],[7.7,7.65],[7.75,7.75],[7.8,8.1],[7.9,8.1],[8,8.15],[8.05,8],[8.1,8.25],[8.15,8.4],[8.25,8.3],[8.3,8.5],[8.4,8.75],[8.45,8.5],[8.5,8.65],[8.45,8.35],[8.6,8.6],[8.65,8.75],[8.7,8.95],[8.8,8.8],[8.85,9.05],[9,9.05],[9.1,9.15],[9.2,9.05],[9.25,9.3],[9.35,9.3],[9.35,9.8],[9.4,9.5],[9.5,9.4],[9.55,9.3],[9.6,9.7],[9.75,9.7],[9.8,9.85],[9.95,9.9],[10,10.15],[9.95,10.4],[10.1,10],[10.2,9.8],[10.2,10.3],[10.3,10.2],[10.35,10.55],[10.45,10.3],[10.5,10.5],[10.55,10.85],[10.6,10.6],[10.7,10.75],[10.75,10.55],[10.85,10.9],[10.9,10.55],[10.9,10.8],[10.95,11.45],[11,11],[11.1,11.2],[11.2,10.9],[11.2,11.6],[11.35,10.9],[11.3,11.3],[11.4,11.15],[11.45,11.5],[11.4,12.2],[11.5,12.1],[11.55,11.4],[11.6,11.25],[11.65,11.7],[11.75,11.85],[11.75,12.45],[11.85,11.55],[11.9,12],[12,11.8],[12,12.6],[12.05,12.1],[12.15,12.2],[12.15,11.65],[12.2,12.6],[12.25,12.05],[12.3,12.35],[12.4,12.5],[12.45,12.15],[12.5,12.55],[12.6,12.25],[12.65,12.6],[12.7,12.75],[12.7,13],[12.8,12.4],[12.85,12.9],[13,13.7],[13,13.2],[13.15,12.75],[13.15,13.35],[13.2,13.55],[13.3,13.3],[13.6,13.1],[13.5,14.05],[13.8,13.7],[13.85,13.95],[13.9,13.6],[14.05,14.4],[14.5,14.3],[14.5,14.85],[14.7,14.7],[15.6,15.5],[10.05,10.2],[10.15,10.25],[10.4,10.5],[10.6,10.8],[10.8,10.7],[11.05,11.05],[11.6,11.6],[11.9,11.9],[12.1,12.05],[12.3,12.2],[12.4,12.3],[12.55,12.4],[9.2,9.25],[8.9,8.95],[8.6,8.55],[8.2,8.2],[7.95,7.95]];
const distRefCore=[[7.5,7.55],[7.65,7.85],[8.05,8.2],[8.35,8.45],[8.55,8.5],[8.75,8.85],[8.95,9],[9.15,9.2],[9.45,9.5],[9.65,9.6],[9.85,9.95],[10.25,10.4],[10.35,10.3],[10.45,10.5],[10.55,10.55],[10.65,10.85],[10.7,10.6],[10.8,10.95],[10.95,10.95],[11.1,11.1],[11.25,11.15],[11.45,11.35],[11.5,11.65],[11.65,11.55],[11.7,11.85],[11.8,11.7],[11.85,12.05],[11.95,11.95],[12.05,12.25],[12.1,11.9],[12.2,12.1],[12.25,12.3],[12.35,12.45],[12.35,12.15],[12.45,12.35],[12.5,12.25],[12.6,12.45],[12.75,12.7],[12.9,12.85],[13.05,13]];

const SVGNS="http://www.w3.org/2000/svg";
const figure=document.getElementById("figure");
const colLeft=[79.7,481.7,884.3];
const colRight=[375,777.7,1180];
const rowTop=[72.7,484,895];
const rowBottom=[375,786.7,1197.7];

function make(tag,parent,attrs){
  const el=document.createElementNS(SVGNS,tag);
  for(const k in attrs){el.setAttribute(k,attrs[k]);}
  parent.appendChild(el);
  return el;
}
function addParts(el,parts){
  let shift=0;
  parts.forEach(function(p){
    const t=document.createElementNS(SVGNS,"tspan");
    t.textContent=p[0];
    const kind=p[1];
    if(kind==="i"){t.setAttribute("class","mi");}
    if(kind==="m"){t.setAttribute("class","mr");}
    let target=0;
    if(kind==="sub"||kind==="subi"){
      target=5;
      t.setAttribute("font-size","16.5");
      t.setAttribute("class",kind==="sub"?"mr":"mi");
    }
    if(target!==shift){t.setAttribute("dy",target-shift);shift=target;}
    el.appendChild(t);
  });
}

function drawPanel(cfg){
  const L=colLeft[cfg.col],R=colRight[cfg.col],T=rowTop[cfg.row],B=rowBottom[cfg.row];
  const xScale=function(v){return L+(v-cfg.xlim[0])/(cfg.xlim[1]-cfg.xlim[0])*(R-L);};
  const yScale=function(v){return B-(v-cfg.ylim[0])/(cfg.ylim[1]-cfg.ylim[0])*(B-T);};
  const g=make("g",figure,{});
  
  

  cfg.points.forEach(function(p){
    const c=make("circle",g,{cx:xScale(p[0]),cy:yScale(p[1]),r:2.75,fill:cfg.color});
    
    
  });

  const diag=make("line",g,{x1:xScale(cfg.diag[0]),y1:yScale(cfg.diag[0]),x2:xScale(cfg.diag[1]),y2:yScale(cfg.diag[1]),stroke:"#000","stroke-opacity":0.5,"stroke-width":2.7,"stroke-dasharray":"10.5 4.6"});
  
  

  const spineL=make("line",g,{x1:L,y1:T,x2:L,y2:B+0.8,stroke:"#000","stroke-width":1.6});
  
  
  const spineB=make("line",g,{x1:L,y1:B,x2:R,y2:B,stroke:"#000","stroke-width":1.6});
  
  

  for(let v=cfg.xMinorStart;v<=cfg.xlim[1]+1e-6;v+=cfg.xMinor){
    const x=xScale(v);
    const mt=make("line",g,{x1:x,y1:B,x2:x,y2:B+3.8,stroke:"#000","stroke-width":1.1});
    
    
  }
  for(let v=cfg.yMinorStart;v<=cfg.ylim[1]+1e-6;v+=cfg.yMinor){
    const y=yScale(v);
    const mt=make("line",g,{x1:L,y1:y,x2:L-3.8,y2:y,stroke:"#000","stroke-width":1.1});
    
    
  }
  cfg.xTicks.forEach(function(v){
    const x=xScale(v);
    const t=make("line",g,{x1:x,y1:B,x2:x,y2:B+6.4,stroke:"#000","stroke-width":1.5});
    
    
    const lab=make("text",g,{x:x,y:B+31,"text-anchor":"middle","font-size":22.5});
    
    
    lab.textContent=String(v);
  });
  cfg.yTicks.forEach(function(v){
    const y=yScale(v);
    const t=make("line",g,{x1:L,y1:y,x2:L-6.4,y2:y,stroke:"#000","stroke-width":1.5});
    
    
    const lab=make("text",g,{x:L-15.5,y:y+8,"text-anchor":"end","font-size":22.5});
    
    
    lab.textContent=String(v);
  });

  const xl=make("text",g,{x:(L+R)/2+cfg.xlabelShift,y:B+61,"text-anchor":"middle","font-size":23.5});
  
  
  addParts(xl,cfg.xlabel);

  const ylx=L+cfg.ylabelOffset, yly=(T+B)/2;
  const yl=make("text",g,{x:ylx,y:yly,"text-anchor":"middle","font-size":23.5,transform:"rotate(-90 "+ylx+" "+yly+")"});
  
  
  addParts(yl,cfg.ylabel);

  const rms=make("text",g,{x:R-3,y:B-10,"text-anchor":"end","font-size":18.3,style:"fill:#000;fill-opacity:.6"});
  
  
  rms.textContent="RMS: "+cfg.rms;

  (cfg.highlights||[]).forEach(function(p,i){
    const px=xScale(p[0]),py=yScale(p[1]);
    const spec=cfg.annotations[i];
    const arrow=make("path",g,{d:"M"+(px+spec.sx)+","+(py+spec.sy)+" Q"+(px+spec.cx)+","+(py+spec.cy)+" "+(px+spec.ex)+","+(py+spec.ey),fill:"none",stroke:"#000","stroke-width":1.6,"marker-end":"url(#arrowhead)"});
    
    
    const hc=make("circle",g,{cx:px,cy:py,r:5,fill:cfg.color,stroke:"#000","stroke-width":1.6});
    
    
    const lab=make("text",g,{x:px+spec.tx,y:py+spec.ty,"font-size":18.2});
    
    
    lab.textContent=cfg.names[i];
  });
}

const logT=[["log ","s"],["t","i"]];
const aZero=[["A","i"],["0","sub"]];
const distLabel=[["distance modulus","s"]];
const GREEN="#00ff9d",PURPLE="#c000ff",BLUE="#00b6ff";
const ageBase={xlim:[5.905,10],ylim:[5.9,10],xTicks:ageTicks,yTicks:ageTicks,xMinor:0.2,yMinor:0.2,xMinorStart:6,yMinorStart:6,diag:[5.95,10],ylabel:logT,ylabelOffset:-54,xlabelShift:0};
const extBase={xlim:[-0.2,6],ylim:[-0.2,6],xTicks:extTicks,yTicks:extYTicks,xMinor:0.2,yMinor:0.5,xMinorStart:0,yMinorStart:0,diag:[-0.2,6],ylabel:aZero,ylabelOffset:-41,xlabelShift:0};
const distBase={xlim:[5,16],ylim:[5,16],xTicks:distTicks,yTicks:distTicks,xMinor:0.5,yMinor:0.5,xMinorStart:5,yMinorStart:5,diag:[5.05,15.88],ylabel:distLabel,ylabelOffset:-56,xlabelShift:0};

drawPanel(Object.assign({},ageBase,{name:"panel-age-k13",col:0,row:0,points:ageK13.concat(ageK13Core,ageK13Ridge),color:GREEN,rms:rmsK13[0],xlabel:[["log ","s"],["t","i"],[" (K13)","s"]],highlights:ageK13Highlights,names:ageK13Names,annotations:[
  {sx:-20,sy:-8,cx:-12,cy:-4,ex:-5,ey:-1,tx:-93,ty:-16},
  {sx:-53,sy:20,cx:-26,cy:6,ex:-4.5,ey:0,tx:-119,ty:41}
]}));
drawPanel(Object.assign({},extBase,{name:"panel-extinction-k13",col:1,row:0,points:extK13.concat(extK13Core,extK13Ridge),color:GREEN,rms:rmsK13[1],xlabel:[["3.1\u2009×\u2009","m"],["E","i"],["(","m"],["B","i"],["\u2009−\u2009","m"],["V","i"],[")","m"],[" (K13)","s"]]}));
drawPanel(Object.assign({},distBase,{name:"panel-distance-k13",col:2,row:0,points:distK13.concat(distK13Core),color:GREEN,rms:rmsK13[2],xlabel:[["distance modulus (K13)","s"]]}));

drawPanel(Object.assign({},ageBase,{name:"panel-age-m19",col:0,row:1,points:ageM19,color:PURPLE,rms:rmsM19[0],xlabel:[["log ","s"],["t","i"],[" (M19)","s"]],highlights:ageM19Highlights,names:ageM19Names,annotations:[
  {sx:-28,sy:-13,cx:-14,cy:-7,ex:-5,ey:-1.5,tx:-102,ty:-22},
  {sx:38,sy:-63,cx:25,cy:-30,ex:2.5,ey:-4.5,tx:-14,ty:-72}
]}));
drawPanel(Object.assign({},extBase,{name:"panel-extinction-m19",col:1,row:1,points:extM19,color:PURPLE,rms:rmsM19[1],xlabel:[["R","i"],["V","subi"],["\u2009×\u2009","m"],["E","i"],["(","m"],["B","i"],["\u2009−\u2009","m"],["V","i"],[")","m"],[" (M19)","s"]]}));
drawPanel(Object.assign({},distBase,{name:"panel-distance-m19",col:2,row:1,points:distM19,color:PURPLE,rms:rmsM19[2],xlabel:[["distance modulus (M19)","s"]]}));

drawPanel(Object.assign({},ageBase,{name:"panel-age-ref",col:0,row:2,points:ageRef.concat(ageRefCore),color:BLUE,rms:rmsRef[0],xlabel:[["log ","s"],["t","i"],[" (ref.)","s"]]}));
drawPanel(Object.assign({},extBase,{name:"panel-extinction-ref",col:1,row:2,points:extRef.concat(extRefCore),color:BLUE,rms:rmsRef[1],xlabel:[["A","i"],["V","subi"],[" (ref.)","s"]]}));
drawPanel(Object.assign({},distBase,{name:"panel-distance-ref",col:2,row:2,points:distRef.concat(distRefCore),color:BLUE,rms:rmsRef[2],xlabel:[["distance modulus (ref.)","s"]]}));
</script>
</body>
</html>
